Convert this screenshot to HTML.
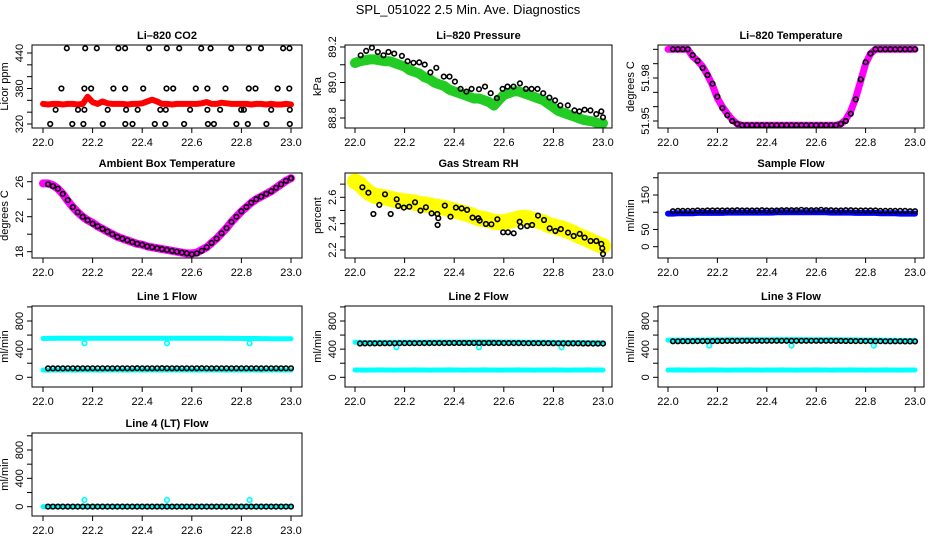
<!DOCTYPE html>
<html><head><meta charset="utf-8">
<style>
html,body{margin:0;padding:0;background:#fff;}
svg{display:block;font-family:"Liberation Sans",Arial,sans-serif;}
.tk{font-size:11px;fill:#000;}
.ttl{font-size:11px;font-weight:bold;fill:#000;}
</style></head>
<body>
<svg id="fig" width="936" height="540" viewBox="0 0 936 540">
<text x="468" y="14" text-anchor="middle" font-size="13">SPL_051022  2.5 Min. Ave. Diagnostics</text>
</svg>
<script>
const tGrid=[22.00,22.02,22.04,22.06,22.08,22.10,22.12,22.14,22.16,22.18,22.20,22.22,22.24,22.26,22.28,22.30,22.32,22.34,22.36,22.38,22.40,22.42,22.44,22.46,22.48,22.50,22.52,22.54,22.56,22.58,22.60,22.62,22.64,22.66,22.68,22.70,22.72,22.74,22.76,22.78,22.80,22.82,22.84,22.86,22.88,22.90,22.92,22.94,22.96,22.98,23.00];
const xTicks=[22.0,22.2,22.4,22.6,22.8,23.0];
const xTickLabels=["22.0","22.2","22.4","22.6","22.8","23.0"];

const co2Red=[354,353,354,354,353,354,354,353,354,366,357,354,358,355,354,354,354,353,354,354,355,358,361,358,354,354,353,354,354,354,354,354,355,357,354,354,356,355,354,354,354,354,353,354,354,353,354,353,353,354,353];
const co2BlackX=[22.096,22.170,22.217,22.304,22.331,22.428,22.499,22.549,22.638,22.676,22.759,22.830,22.879,22.968,22.994,22.074,22.167,22.194,22.284,22.331,22.404,22.498,22.525,22.616,22.663,22.736,22.830,22.857,22.946,22.993,22.051,22.141,22.167,22.261,22.335,22.382,22.473,22.495,22.593,22.663,22.714,22.799,22.810,22.920,22.995,22.029,22.118,22.163,22.241,22.332,22.361,22.451,22.493,22.569,22.665,22.689,22.780,22.826,22.901,22.995];
const co2BlackY=[448,448,448,448,448,448,448,448,448,448,448,448,448,448,448,380,380,380,380,380,380,380,380,380,380,380,380,380,380,380,344,344,344,344,344,344,344,344,344,344,344,344,344,344,344,320,320,320,320,320,320,320,320,320,320,320,320,320,320,320];

const pressGreen=[89.11,89.12,89.125,89.13,89.13,89.125,89.12,89.12,89.11,89.10,89.09,89.07,89.06,89.05,89.03,89.02,89.00,88.99,88.98,88.96,88.95,88.94,88.93,88.92,88.91,88.91,88.90,88.89,88.87,88.90,88.93,88.94,88.95,88.95,88.94,88.93,88.92,88.91,88.90,88.88,88.86,88.84,88.83,88.82,88.81,88.80,88.79,88.785,88.78,88.77,88.77];
const pressBlackX=[22.023,22.045,22.068,22.092,22.115,22.135,22.158,22.189,22.212,22.236,22.259,22.281,22.304,22.328,22.358,22.381,22.403,22.426,22.449,22.470,22.500,22.524,22.547,22.572,22.595,22.615,22.639,22.665,22.689,22.712,22.736,22.759,22.784,22.807,22.828,22.858,22.885,22.905,22.926,22.949,22.973,22.993,23.000];
const pressBlackY=[89.153,89.178,89.196,89.172,89.153,89.172,89.163,89.150,89.120,89.111,89.113,89.101,89.057,89.083,89.033,89.033,89.005,88.964,88.949,88.964,88.962,88.977,88.940,88.912,88.964,88.977,88.977,88.995,88.964,88.964,88.964,88.940,88.915,88.899,88.871,88.871,88.843,88.837,88.847,88.843,88.822,88.837,88.804];

const tempMag=[52.0,52.0,52.0,52.0,52.0,51.995,51.992,51.988,51.982,51.975,51.966,51.96,51.955,51.951,51.948,51.947,51.947,51.947,51.947,51.947,51.947,51.947,51.947,51.947,51.947,51.947,51.947,51.947,51.947,51.947,51.947,51.947,51.947,51.947,51.947,51.948,51.951,51.957,51.966,51.978,51.99,51.997,52.0,52.0,52.0,52.0,52.0,52.0,52.0,52.0,52.0];
const tempBlack=[null,52.0,52.0,52.0,52.0,51.996,51.992,51.987,51.982,51.976,51.967,51.959,51.954,51.950,51.948,51.947,51.947,51.947,51.947,51.947,51.947,51.947,51.947,51.947,51.947,51.947,51.947,51.947,51.947,51.947,51.947,51.947,51.947,51.947,51.947,51.948,51.950,51.955,51.965,51.979,51.991,51.997,52.0,52.0,52.0,52.0,52.0,52.0,52.0,52.0,52.0];

const ambMag=[25.8,25.8,25.6,25.2,24.6,23.8,23.1,22.5,22.0,21.6,21.3,20.9,20.6,20.3,20.0,19.7,19.5,19.3,19.1,18.9,18.8,18.6,18.5,18.4,18.3,18.2,18.1,18.0,17.9,17.8,17.8,17.9,18.2,18.5,19.0,19.5,20.1,20.7,21.4,22.0,22.6,23.1,23.6,24.0,24.3,24.6,24.9,25.3,25.7,26.1,26.4];
const ambBlack=[null,25.7,25.5,25.2,24.6,23.9,23.1,22.5,22.0,21.6,21.2,20.9,20.6,20.3,20.0,19.7,19.5,19.3,19.1,18.9,18.8,18.6,18.5,18.4,18.3,18.2,18.1,18.0,17.9,17.8,17.7,17.8,18.1,18.5,19.0,19.5,20.1,20.7,21.4,22.0,22.6,23.1,23.6,24.0,24.3,24.6,24.9,25.3,25.7,26.1,26.4];

const rhYellow=[2.72,2.70,2.66,2.63,2.61,2.605,2.60,2.59,2.58,2.575,2.57,2.565,2.56,2.55,2.545,2.54,2.53,2.525,2.52,2.51,2.50,2.49,2.48,2.47,2.455,2.44,2.435,2.425,2.415,2.41,2.41,2.42,2.43,2.44,2.445,2.44,2.43,2.42,2.41,2.39,2.38,2.37,2.36,2.345,2.33,2.31,2.295,2.28,2.26,2.245,2.23];
const rhBlackX=[22.030,22.054,22.074,22.098,22.121,22.144,22.168,22.174,22.197,22.219,22.242,22.264,22.286,22.309,22.332,22.336,22.333,22.362,22.385,22.407,22.430,22.452,22.474,22.497,22.503,22.528,22.550,22.574,22.597,22.617,22.640,22.664,22.668,22.694,22.714,22.738,22.762,22.785,22.808,22.830,22.859,22.882,22.906,22.926,22.950,22.973,22.993,22.997,23.000];
const rhBlackY=[2.676,2.635,2.473,2.542,2.623,2.473,2.585,2.534,2.522,2.529,2.562,2.499,2.524,2.478,2.473,2.441,2.390,2.537,2.453,2.522,2.516,2.504,2.446,2.441,2.423,2.397,2.395,2.433,2.334,2.334,2.327,2.415,2.377,2.382,2.390,2.461,2.428,2.365,2.344,2.359,2.332,2.306,2.322,2.294,2.268,2.268,2.246,2.213,2.170];

const sampleBlue=[96,96,97,97,97,97,98,98,98,98,98,98,99,99,99,99,99,99,99,99,99,99,100,100,100,100,100,100,100,100,100,100,100,99,99,99,99,99,98,98,98,98,98,97,97,97,97,96,96,96,96];
const sampleBlack=[null,103,104,104,104,104,105,104,105,105,105,105,105,105,106,105,105,105,105,106,105,105,105,106,106,106,106,107,106,106,106,107,106,106,105,105,106,106,105,105,105,105,105,104,104,104,104,104,104,103,103];

const l1Upper=[552,553,553,554,554,554,555,555,554,554,555,555,555,556,556,556,556,555,555,556,556,556,556,556,556,556,556,556,556,555,555,555,555,555,554,554,554,553,553,553,552,552,551,551,550,550,549,549,548,548,548];
const l1Lower=[104,103,104,105,104,104,103,104,105,104,104,103,104,104,105,104,104,103,104,104,105,104,104,104,103,104,104,105,104,104,104,103,104,104,105,104,104,103,104,104,105,104,104,104,103,104,104,105,104,104,104];
const l1Black=[null,126,127,127,127,128,128,127,128,128,128,128,128,128,128,128,128,128,128,129,128,128,128,128,129,128,128,128,128,128,128,128,129,128,128,128,128,128,128,128,128,128,128,128,127,128,128,128,128,128,128];
const l2Upper=[497,496,495,495,495,496,496,496,497,497,498,498,499,499,499,500,500,500,500,500,500,500,500,500,501,501,501,501,501,500,500,500,500,500,499,499,499,498,498,497,497,496,496,495,495,494,494,493,493,492,492];
const l2Lower=[104,104,103,104,104,105,104,104,103,104,104,104,105,104,104,103,104,104,104,105,104,104,103,104,104,104,105,104,104,103,104,104,104,105,104,104,103,104,104,104,105,104,104,103,104,104,104,105,104,104,104];
const l2Black=[null,480,481,481,482,482,483,483,483,484,484,485,485,485,486,486,486,486,486,487,487,487,487,487,487,487,487,487,487,487,486,486,486,486,485,485,485,484,484,484,483,483,482,482,481,481,480,480,479,479,479];
const l3Upper=[528,528,528,529,529,529,530,530,530,531,531,532,532,533,533,533,534,534,534,534,534,534,535,535,535,535,535,535,535,534,534,534,534,533,533,532,532,531,531,530,530,529,528,528,527,526,526,525,525,524,524];
const l3Lower=[104,104,105,104,104,103,104,104,104,105,104,104,103,104,104,104,105,104,104,103,104,104,104,105,104,104,103,104,104,104,105,104,104,103,104,104,104,105,104,104,103,104,104,104,105,104,104,103,104,104,104];
const l3Black=[null,512,512,513,513,513,514,514,515,515,516,516,517,517,517,518,518,518,519,519,519,519,519,519,519,519,519,519,519,519,518,518,518,518,517,517,516,516,515,515,514,514,513,513,512,512,511,511,510,510,510];
const l4Cyan=[2,2,1,2,2,1,2,2,1,2,2,1,2,2,1,2,2,1,2,2,1,2,2,1,2,2,1,2,2,1,2,2,1,2,2,1,2,2,1,2,2,1,2,2,1,2,2,1,2,2,1];
const l4Black=[null,1,1,1,1,1,1,1,1,1,1,1,1,1,1,1,1,1,1,1,1,1,1,1,1,1,1,1,1,1,1,1,1,1,1,1,1,1,1,1,1,1,1,1,1,1,1,1,1,1,1];
const outlierX=[22.167,22.500,22.833];
const l1Outlier=[483,483,483];
const l2Outlier=[426,426,426];
const l3Outlier=[450,450,450];
const l4Outlier=[94,94,94];

const NS="http://www.w3.org/2000/svg";
const svg=document.getElementById('fig');
const cols=[{L:32,R:302,x0:43,x1:291},{L:345,R:612,x0:355,x1:603},{L:658,R:924,x0:668,x1:915}];
const rows=[{T:45,B:128},{T:173,B:258},{T:306,B:387},{T:433,B:516}];
function mk(tag,attrs,parent){const e=document.createElementNS(NS,tag);for(const k in attrs)e.setAttribute(k,attrs[k]);(parent||svg).appendChild(e);return e;}

function panel(id,ci,ri,title,ylab,v1,y1,v2,y2,yTicks,yLabels,yLabelText){
  const c=cols[ci],r=rows[ri];
  const g=mk('g',{});
  
  
  const sx=v=>c.x0+(v-22)*(c.x1-c.x0);
  const sy=v=>y1+(v-v1)*(y2-y1)/(v2-v1);
  const clip=mk('clipPath',{id:'clip-'+id},g);
  mk('rect',{x:c.L,y:r.T,width:c.R-c.L,height:r.B-r.T},clip);
  const plot=mk('g',{'clip-path':'url(#clip-'+id+')'},g);
  
  
  const t=mk('text',{x:(c.L+c.R)/2,y:r.T-6,'text-anchor':'middle',class:'ttl'},g);
  t.textContent=title;
  
  
  const box=mk('rect',{x:c.L,y:r.T,width:c.R-c.L,height:r.B-r.T,fill:'none',stroke:'#000','stroke-width':1},g);
  
  
  const xa=mk('g',{},g);
  
  
  mk('line',{x1:sx(xTicks[0]),x2:sx(xTicks[xTicks.length-1]),y1:r.B,y2:r.B,stroke:'#000'},xa);
  xTicks.forEach((v,i)=>{
    mk('line',{x1:sx(v),x2:sx(v),y1:r.B,y2:r.B+5,stroke:'#000'},xa);
    const l=mk('text',{x:sx(v),y:r.B+18,'text-anchor':'middle',class:'tk'},xa);
    l.textContent=xTickLabels[i];
    
    
  });
  const ya=mk('g',{},g);
  
  
  mk('line',{x1:c.L,x2:c.L,y1:sy(yTicks[0]),y2:sy(yTicks[yTicks.length-1]),stroke:'#000'},ya);
  yTicks.forEach(v=>{mk('line',{x1:c.L-5,x2:c.L,y1:sy(v),y2:sy(v),stroke:'#000'},ya);});
  yLabels.forEach((v,i)=>{
    const yy=sy(v),xx=c.L-9;
    const l=mk('text',{x:xx,y:yy,'text-anchor':'middle',class:'tk',transform:'rotate(-90 '+xx+' '+yy+')'},ya);
    l.textContent=yLabelText[i];
    
    
  });
  const yt=c.L-24,ym=(r.T+r.B)/2;
  const at=mk('text',{x:yt,y:ym,'text-anchor':'middle',class:'tk',transform:'rotate(-90 '+yt+' '+ym+')'},g);
  at.textContent=ylab;
  
  
  return {sx,sy,plot};
}
function band(p,xs,ys,color,w,name){
  let pts=[];
  xs.forEach((x,i)=>{if(ys[i]!==null)pts.push(p.sx(x).toFixed(1)+','+p.sy(ys[i]).toFixed(1));});
  const pl=mk('polyline',{points:pts.join(' '),fill:'none',stroke:color,'stroke-width':w,'stroke-linejoin':'round','stroke-linecap':'round'},p.plot);
  
  
}
function dots(p,xs,ys,color,name,r,sw){
  const g=mk('g',{},p.plot);
  
  
  xs.forEach((x,i)=>{
    if(ys[i]===null)return;
    const c=mk('circle',{cx:p.sx(x).toFixed(1),cy:p.sy(ys[i]).toFixed(1),r:r||2.3,fill:'none',stroke:color,'stroke-width':sw||1.6},g);
    
    
  });
}

let p;
p=panel('co2',0,0,'Li\u2013820 CO2','Licor ppm',320,124,440,53,[320,340,360,380,400,420,440],[320,380,440],['320','380','440']);
band(p,tGrid,co2Red,'#ff0000',6,'co2-raw-series');
dots(p,co2BlackX,co2BlackY,'#000','co2-average-points');

p=panel('pressure',1,0,'Li\u2013820 Pressure','kPa',88.8,118,89.2,47,[88.8,88.9,89.0,89.1,89.2],[88.8,89.0,89.2],['88.8','89.0','89.2']);
band(p,tGrid,pressGreen,'#22cc22',10,'pressure-raw-series');
dots(p,pressBlackX,pressBlackY,'#000','pressure-average-points');

p=panel('li820-temp',2,0,'Li\u2013820 Temperature','degrees C',51.95,121,51.98,78,[51.95,51.96,51.97,51.98,51.99,52.0],[51.95,51.98],['51.95','51.98']);
band(p,tGrid,tempMag,'#ff00ff',7,'li820-temp-raw-series');
dots(p,tGrid,tempBlack,'#000','li820-temp-average-points');

p=panel('ambient',0,1,'Ambient Box Temperature','degrees C',18,251.7,22,216.7,[18,20,22,24,26],[18,22,26],['18','22','26']);
band(p,tGrid,ambMag,'#ff00ff',8,'ambient-raw-series');
dots(p,tGrid,ambBlack,'#000','ambient-average-points');

p=panel('rh',1,1,'Gas Stream RH','percent',2.2,250,2.6,197.3,[2.2,2.3,2.4,2.5,2.6,2.7],[2.2,2.4,2.6],['2.2','2.4','2.6']);
band(p,tGrid,rhYellow,'#ffff00',16,'rh-raw-series');
dots(p,rhBlackX,rhBlackY,'#000','rh-average-points');

p=panel('sample-flow',2,1,'Sample Flow','ml/min',0,246.7,150,195,[0,50,100,150,200],[0,50,150],['0','50','150']);
band(p,tGrid,sampleBlue,'#0000ff',6,'sample-flow-raw-series');
dots(p,tGrid,sampleBlack,'#000','sample-flow-average-points');

const flowTicks=[0,200,400,600,800,1000];
p=panel('line1',0,2,'Line 1 Flow','ml/min',0,377.3,800,321,flowTicks,[0,400,800],['0','400','800']);
band(p,tGrid,l1Upper,'#00ffff',5,'line1-upper-series');
band(p,tGrid,l1Lower,'#00ffff',5,'line1-lower-series');
dots(p,outlierX,l1Outlier,'#00ffff','line1-outliers');
dots(p,tGrid,l1Black,'#000','line1-average-points');

p=panel('line2',1,2,'Line 2 Flow','ml/min',0,377.3,800,321,flowTicks,[0,400,800],['0','400','800']);
band(p,tGrid,l2Upper,'#00ffff',5,'line2-upper-series');
band(p,tGrid,l2Lower,'#00ffff',5,'line2-lower-series');
dots(p,outlierX,l2Outlier,'#00ffff','line2-outliers');
dots(p,tGrid,l2Black,'#000','line2-average-points');

p=panel('line3',2,2,'Line 3 Flow','ml/min',0,377.3,800,321,flowTicks,[0,400,800],['0','400','800']);
band(p,tGrid,l3Upper,'#00ffff',5,'line3-upper-series');
band(p,tGrid,l3Lower,'#00ffff',5,'line3-lower-series');
dots(p,outlierX,l3Outlier,'#00ffff','line3-outliers');
dots(p,tGrid,l3Black,'#000','line3-average-points');

p=panel('line4',0,3,'Line 4 (LT) Flow','ml/min',0,506.7,800,450,flowTicks,[0,400,800],['0','400','800']);
band(p,tGrid,l4Cyan,'#00ffff',5,'line4-raw-series');
dots(p,outlierX,l4Outlier,'#00ffff','line4-outliers');
dots(p,tGrid,l4Black,'#000','line4-average-points');
</script>
</body></html>
